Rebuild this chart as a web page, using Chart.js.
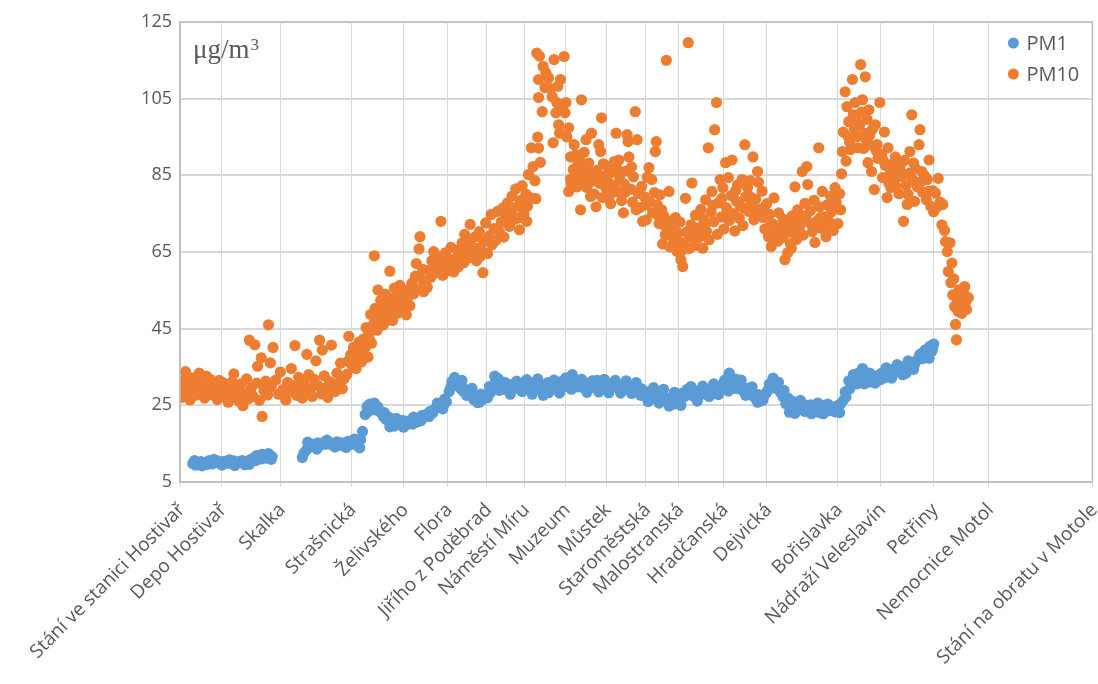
<!DOCTYPE html>
<html><head><meta charset="utf-8">
<script src="https://cdn.jsdelivr.net/npm/chart.js@4"></script>
<style>html,body{margin:0;padding:0;background:#fff}</style>
</head><body>
<canvas id="c" width="1098" height="684"></canvas>
<script>
const stationNames = ["Stání ve stanici Hostivař","Depo Hostivař","Skalka","Strašnická","Želivského","Flora","Jiřího z Poděbrad","Náměstí Míru","Muzeum","Můstek","Staroměstská","Malostranská","Hradčanská","Dejvická","Bořislavka","Nádraží Veleslavín","Petřiny","Nemocnice Motol","Stání na obratu v Motole"];
const stationPos = [0,4.56,11.01,18.77,24.51,29.32,33.63,37.78,42.25,46.70,51.06,54.69,59.55,64.32,72.07,76.80,82.55,88.62,100];
const yTicks = [5,25,45,65,85,105,125];
const seriesNames = ["PM1","PM10"];
const unitLabel = "μg/m";

const pm1 = [
[1.4,9.8],[1.7,9.4],[2.0,9.9],[2.3,10.3],[2.6,9.5],[2.9,10.1],[3.2,10.6],[3.5,9.7],[3.8,10.2],[4.1,10.5],[4.4,9.8],[4.7,10.3],[5.0,10.4],[5.3,9.9],[5.6,10.2],[5.9,10.5],[6.2,10.0],[6.5,10.3],[6.8,10.6],[7.1,9.5],[7.4,10.4],[7.7,10.8],[8.0,11.2],[8.3,10.6],[8.6,11.5],[8.9,11.0],[9.2,11.8],[9.5,11.2],[9.8,11.9],[10.1,11.6],
[1.6,10.6],[2.4,9.2],[3.0,9.6],[3.7,10.9],[4.6,9.4],[5.4,10.8],[6.0,9.3],[6.9,10.1],[7.6,9.6],[8.4,11.9],[9.0,12.2],[9.7,12.4],[10.0,10.9],
[13.4,11.4],[13.6,12.6],[13.9,13.5],[14.2,14.2],[14.5,14.8],[14.8,14.3],[15.1,15.2],[15.4,14.6],[15.7,15.3],[16.0,14.9],[16.3,15.4],[16.6,14.7],[16.9,15.1],[17.2,15.5],[17.5,14.6],[17.8,15.2],[18.1,15.0],[18.4,15.6],[18.7,14.8],[19.0,15.3],[19.3,15.9],[19.5,14.4],[19.8,16.1],[20.0,18.2],[20.3,22.6],[20.5,24.7],[20.8,25.3],[21.1,24.4],[21.4,23.8],[21.7,24.6],[22.0,23.2],[22.3,22.0],[22.6,21.3],[22.9,21.9],[23.2,20.2],[23.5,19.6],[23.8,20.8],[24.1,20.3],[24.4,21.1],[24.7,19.7],[25.0,20.6],[25.3,21.2],[25.6,21.9],[25.9,20.6],[26.2,21.4],[26.5,22.3],[26.8,22.0],[27.1,22.8],[27.4,23.4],[27.7,23.0],[28.0,24.2],[28.3,24.8],[28.6,25.3],[28.9,25.0],[29.2,25.9],
[14.0,15.4],[15.0,13.6],[16.1,15.9],[17.0,14.1],[18.2,14.0],[19.1,16.2],[19.7,13.9],[20.6,23.3],[21.3,25.6],[22.4,23.1],[23.0,19.4],[23.7,21.6],[24.5,19.3],[25.5,20.1],[26.4,21.0],[27.3,22.1],[28.2,25.6],[28.8,24.1],[29.0,26.6],
[29.5,28.6],[29.8,31.2],[30.1,32.3],[30.4,30.8],[30.7,29.5],[31.0,28.7],[31.3,29.1],[31.6,28.4],[31.9,27.9],[32.2,26.5],[32.5,27.3],[32.8,25.8],[33.1,26.4],[33.4,27.6],[33.7,27.0],[34.0,28.2],[34.3,29.6],[34.6,31.3],[34.9,31.9],[35.2,30.6],[35.5,29.2],[35.8,30.1],[36.1,29.3],[36.4,30.5],[36.7,29.6],[37.0,30.3],[37.3,29.1],[37.6,30.4],[37.9,29.8],[38.2,30.6],
[38.5,29.2],[38.8,30.8],[39.1,29.5],[39.4,30.2],[39.7,28.8],[40.0,29.6],[40.3,30.9],[40.6,29.1],[40.9,30.3],[41.2,29.4],[41.5,30.6],[41.8,31.2],[42.1,29.9],[42.4,30.5],[42.7,31.6],[43.0,33.0],[43.3,31.4],[43.6,29.8],[43.9,30.4],[44.2,29.6],[44.5,30.8],[44.8,29.3],[45.1,30.1],[45.4,29.7],[45.7,31.5],[46.0,30.2],[46.3,29.5],[46.6,30.6],[46.9,29.1],[47.2,30.4],[47.5,29.8],[47.8,30.7],[48.1,29.4],[48.4,30.1],[48.7,29.6],[49.0,30.3],[49.3,29.0],[49.6,30.2],[49.9,29.5],
[50.2,28.4],[50.5,27.6],[50.8,28.9],[51.1,27.2],[51.4,28.1],[51.7,26.8],[52.0,28.4],[52.3,27.5],[52.6,26.6],[52.9,28.0],[53.2,27.1],[53.5,25.8],[53.8,26.9],[54.1,25.3],[54.4,27.4],[54.7,26.2],[55.0,28.1],[55.3,27.3],[55.6,29.2],[55.9,28.0],[56.2,27.5],[56.5,28.8],[56.8,27.1],[57.1,28.5],[57.4,29.0],[57.7,27.9],[58.0,28.6],[58.3,29.4],[58.6,28.2],[58.9,29.7],[59.2,28.9],[59.5,30.6],[59.8,29.3],[60.1,28.7],
[60.4,32.4],[60.7,30.9],[61.0,31.8],[61.3,30.2],[61.6,29.0],[61.9,29.6],[62.2,28.3],[62.5,28.9],[62.8,27.4],[63.1,26.7],[63.4,27.8],[63.7,26.2],[64.0,27.5],[64.3,28.4],[64.6,30.6],[64.9,31.2],[65.2,29.5],[65.5,30.1],[65.8,28.4],[66.1,27.2],[66.4,25.4],[66.7,26.8],[67.0,24.1],[67.3,25.9],[67.6,23.6],[67.9,24.8],[68.2,25.5],[68.5,23.4],[68.8,24.6],[69.1,25.1],[69.4,23.9],[69.7,24.4],[70.0,23.2],[70.3,24.7],[70.6,25.0],[70.9,24.1],[71.2,23.6],[71.5,24.3],[71.8,23.3],[72.1,24.9],[72.4,25.4],[72.7,26.3],[73.0,27.2],
[73.3,31.4],[73.6,30.2],[73.9,31.9],[74.2,30.6],[74.5,32.0],[74.8,34.6],[75.1,31.8],[75.4,32.4],[75.7,31.1],[76.0,32.2],[76.3,31.5],[76.6,32.9],[76.9,33.4],[77.2,32.2],[77.5,33.6],[77.8,34.3],[78.1,33.2],[78.4,34.5],[78.7,33.9],[79.0,35.1],[79.3,34.6],[79.6,33.4],[79.9,35.4],[80.2,36.2],[80.5,35.6],[80.8,36.8],[81.1,38.3],[81.4,37.2],[81.7,39.5],[82.0,38.6],[82.2,40.4],[82.4,39.1],[82.6,41.0],
[29.7,29.9],[30.2,30.2],[30.9,31.5],[31.4,27.6],[32.0,29.4],[32.6,25.7],[33.0,27.9],[33.9,29.9],[34.5,32.6],[35.0,28.9],[35.6,31.0],[36.2,27.9],[36.9,31.3],[37.5,28.6],[38.0,31.7],[38.6,27.9],[39.2,31.9],[39.8,27.6],[40.4,28.3],[41.0,31.6],[41.6,28.2],[42.3,32.2],[42.9,29.2],[43.4,30.0],[44.0,31.8],[44.6,28.4],[45.2,31.4],[45.9,28.5],[46.5,31.8],[47.0,28.3],[47.7,31.5],[48.3,28.2],[48.9,31.4],[49.5,28.1],[50.0,30.9],[50.6,29.3],[51.3,26.0],[51.9,29.6],[52.5,25.6],[53.0,29.2],[53.6,24.8],[54.2,28.4],[54.9,25.0],[55.5,28.0],[56.0,29.9],[56.7,26.1],[57.3,30.0],[58.0,27.3],[58.5,30.6],[59.0,27.8],[59.7,31.6],[60.2,33.4],[60.9,29.4],[61.5,31.6],[62.0,27.6],[62.7,29.8],[63.3,25.8],[63.9,26.4],[64.5,29.2],[65.0,32.1],[65.6,31.0],[66.2,28.9],[66.8,23.2],[67.4,22.9],[68.0,26.3],[68.6,24.9],[69.2,22.8],[69.9,25.6],[70.5,22.8],[71.0,25.3],[71.7,24.6],[72.3,23.1],[72.9,28.5],[73.4,29.3],[73.8,33.0],[74.4,33.5],[75.0,30.6],[75.6,33.4],[76.2,30.8],[76.8,31.7],[77.4,34.8],[78.0,32.1],[78.6,35.6],[79.2,33.0],[79.8,36.6],[80.4,34.4],[81.0,37.6],[81.5,38.9],[82.1,37.3],[82.5,39.9]
];

const pm10 = [
[0.0,29.3],[0.2,27.1],[0.4,31.4],[0.6,33.8],[0.8,28.2],[1.0,30.5],[1.1,26.4],[1.3,32.2],[1.5,29.0],[1.7,27.6],[1.9,31.0],[2.1,33.4],[2.3,28.8],[2.5,30.2],[2.7,26.9],[2.9,32.6],[3.1,29.6],[3.3,31.8],[3.5,27.8],[3.7,30.4],[3.9,29.1],[4.1,26.5],[4.3,31.5],[4.5,28.6],[4.7,30.9],[4.9,27.3],[5.1,29.9],[5.3,25.8],[5.5,28.4],[5.7,31.1],[5.9,33.2],[6.1,27.0],[6.3,29.3],[6.5,26.0],[6.7,30.7],[6.9,24.9],[7.1,28.1],[7.3,31.9],[7.5,26.7],[7.6,42.0],[7.8,29.5],[8.0,27.4],[8.2,40.8],[8.4,30.8],[8.5,35.2],[8.7,26.3],[8.9,37.4],[9.0,22.1],[9.2,28.9],[9.4,31.3],[9.6,27.7],[9.7,46.0],[9.9,36.1],[10.0,29.8],[10.2,40.1],
[10.5,31.6],[10.8,27.9],[11.0,33.7],[11.3,29.2],[11.6,26.4],[11.8,31.0],[12.0,28.5],[12.2,34.6],[12.4,30.1],[12.6,40.6],[12.8,27.6],[13.0,32.3],[13.2,29.8],[13.4,26.9],[13.6,31.5],[13.8,28.3],[13.9,38.3],[14.1,33.0],[14.3,29.4],[14.5,27.3],[14.7,31.8],[14.9,36.6],[15.1,30.2],[15.3,42.0],[15.5,28.0],[15.6,39.4],[15.8,32.7],[16.0,29.6],[16.2,27.1],[16.4,31.2],[16.6,40.7],[16.8,30.5],[17.0,28.6],[17.2,33.4],[17.4,30.9],[17.6,36.0],[17.8,29.3],[18.0,32.0],
[18.3,33.1],[18.4,36.5],[18.5,43.0],[18.7,38.2],[18.9,35.4],[19.0,40.1],[19.2,37.3],[19.3,34.6],[19.5,39.2],[19.6,41.5],[19.8,36.8],[20.0,38.9],[20.1,42.3],[20.3,40.0],[20.4,45.3],[20.6,37.6],[20.7,43.8],[20.9,48.7],[21.0,41.2],[21.2,46.1],[21.3,64.0],[21.4,50.3],[21.6,44.6],[21.7,55.1],[21.9,47.9],[22.0,52.4],[22.2,49.5],[22.3,46.0],[22.5,54.0],[22.6,50.8],[22.8,48.2],[23.0,60.0],[23.1,52.9],[23.3,47.1],[23.5,55.6],[23.6,51.4],[23.8,49.0],[24.0,53.8],[24.1,56.3],[24.3,50.2],[24.5,52.6],[24.7,55.0],[24.8,48.6],[25.0,53.3],[25.2,51.0],[25.4,56.8],[25.6,54.1],[25.8,58.7],[25.9,62.0],[26.1,55.2],[26.2,65.8],[26.3,69.0],[26.5,57.9],[26.7,54.6],[26.9,56.2],[27.1,55.8],
[27.3,60.2],[27.5,58.4],[27.6,62.7],[27.8,65.1],[28.0,59.6],[28.1,61.8],[28.3,63.9],[28.5,60.7],[28.6,73.0],[28.8,58.9],[29.0,62.4],[29.1,64.8],[29.3,60.1],[29.5,61.5],[29.7,66.2],[29.8,63.0],[30.0,59.8],[30.2,62.9],[30.4,65.4],[30.5,61.1],[30.7,64.0],[30.9,67.3],[31.1,62.2],[31.2,69.6],[31.4,65.0],[31.6,63.4],[31.8,72.2],[31.9,66.6],[32.1,64.2],[32.3,68.9],[32.5,62.7],[32.7,66.0],[32.8,70.3],[33.0,65.5],[33.2,59.6],[33.3,67.8],[33.5,72.6],[33.7,64.6],[33.9,69.2],[34.1,74.8],[34.2,66.9],[34.4,71.1],[34.6,68.0],[34.8,75.6],[35.0,70.4],
[35.2,72.8],[35.4,76.5],[35.5,68.9],[35.7,74.1],[35.9,77.8],[36.1,71.7],[36.3,75.3],[36.4,79.6],[36.6,73.5],[36.8,81.5],[37.0,76.9],[37.2,70.8],[37.3,78.4],[37.5,82.3],[37.7,75.0],[37.9,80.1],[38.0,73.0],[38.2,85.2],[38.4,79.2],[38.5,92.2],[38.7,87.3],[38.9,83.6],[39.0,78.9],[39.2,95.0],[39.3,92.1],[39.5,88.4],
[39.1,116.9],[39.4,116.1],[39.3,110.0],[39.3,105.3],[39.7,101.6],[39.8,113.4],[40.0,107.9],[40.1,111.8],[40.4,110.4],[40.6,107.6],[40.8,105.5],[40.9,93.5],[41.0,115.2],[41.2,101.3],[41.3,104.0],[41.4,108.2],[41.5,98.2],[41.6,96.0],[41.7,110.0],[41.9,102.5],[42.1,116.0],[42.2,101.3],[42.3,104.0],[42.4,95.0],[42.6,97.4],
[42.6,80.8],[42.8,89.8],[42.9,82.6],[43.1,86.5],[43.2,93.0],[43.3,84.1],[43.4,90.4],[43.6,87.8],[43.7,85.2],[43.8,88.9],[43.9,76.0],[44.0,104.7],[44.1,83.2],[44.2,86.9],[44.4,84.4],[44.5,94.3],[44.6,81.8],[44.8,88.2],[44.9,85.6],[45.1,96.0],[45.2,83.5],[45.4,80.1],[45.6,76.8],[45.7,86.3],[45.9,93.0],[46.0,82.9],[46.1,91.2],[46.2,100.0],[46.3,79.2],[46.5,84.8],[46.7,81.6],[46.8,87.4],[47.0,83.0],[47.1,79.8],[47.3,85.7],[47.5,82.2],[47.6,88.6],[47.8,96.0],[47.9,80.7],[48.1,89.0],[48.2,84.0],[48.4,78.4],[48.6,75.2],[48.7,82.7],[48.9,86.1],[49.0,95.6],[49.1,93.8],[49.2,89.8],[49.4,81.4],[49.6,78.0],[49.7,84.6],[49.9,101.6],[50.1,94.3],[50.2,80.3],
[50.4,76.6],[50.6,82.1],[50.7,73.0],[50.9,79.4],[51.1,73.4],[51.2,84.5],[51.4,87.0],[51.5,78.0],[51.7,83.9],[51.8,75.2],[52.0,80.5],[52.1,91.2],[52.2,93.8],[52.3,77.3],[52.5,72.4],[52.6,79.9],[52.8,76.0],[52.9,67.1],[53.0,74.5],[53.2,69.5],[53.3,115.0],[53.4,71.8],[53.6,80.8],[53.7,66.3],[53.9,73.2],[54.0,68.7],[54.2,70.6],[54.3,74.0],[54.5,65.1],[54.6,69.9],[54.8,72.8],[54.9,63.0],[55.1,61.2],[55.2,67.4],[55.4,79.0],[55.5,70.2],[55.7,119.6],[55.8,65.9],[56.0,72.1],[56.1,83.0],[56.3,68.4],[56.5,74.6],[56.6,66.7],[56.8,71.3],[57.0,69.0],
[57.1,76.1],[57.3,66.0],[57.4,73.5],[57.6,78.6],[57.7,70.4],[57.9,92.2],[58.0,68.2],[58.2,75.4],[58.3,80.8],[58.5,72.9],[58.6,96.9],[58.8,104.0],[58.9,69.6],[59.0,77.8],[59.2,83.9],[59.3,74.1],[59.5,81.8],[59.6,71.0],[59.8,88.3],[59.9,76.5],[60.1,84.4],[60.2,73.2],[60.4,79.7],[60.5,89.0],[60.7,75.0],[60.8,70.5],[61.0,78.2],[61.1,82.5],[61.3,73.8],[61.4,77.0],[61.6,83.9],[61.7,71.9],[61.9,93.0],[62.0,79.4],[62.2,81.8],[62.3,75.6],[62.5,83.6],[62.6,77.3],[62.8,89.8],[62.9,73.4],[63.1,78.8],[63.3,86.0],[63.4,83.2],[63.6,76.2],[63.8,80.9],[63.9,74.0],[64.1,71.0],
[64.3,77.6],[64.5,69.0],[64.6,74.8],[64.8,66.4],[65.0,72.3],[65.1,79.1],[65.3,70.7],[65.5,67.8],[65.6,75.2],[65.8,71.4],[66.0,68.7],[66.1,73.6],[66.3,63.0],[66.4,69.9],[66.6,64.8],[66.8,72.0],[66.9,67.2],[67.1,74.4],[67.2,70.1],[67.4,82.0],[67.6,68.3],[67.7,76.0],[67.9,71.5],[68.0,73.9],[68.2,86.0],[68.3,69.4],[68.5,77.7],[68.7,87.3],[68.8,82.6],[69.0,72.6],[69.1,75.8],[69.3,70.3],[69.5,78.5],[69.6,67.5],[69.8,73.1],[70.0,92.2],[70.1,76.8],[70.3,71.2],[70.4,80.8],[70.6,74.2],[70.8,69.0],[70.9,77.3],[71.1,73.0],[71.3,79.6],[71.4,75.5],[71.6,70.6],[71.8,81.8],[71.9,78.0],[72.1,72.4],
[72.3,80.2],[72.5,85.4],[72.6,91.2],[72.7,96.3],[72.9,106.8],[73.0,88.7],[73.1,102.9],[73.3,99.0],[73.4,93.6],[73.5,91.7],[73.7,110.0],[73.8,100.8],[73.9,97.4],[74.0,104.0],[74.2,95.1],[74.3,92.2],[74.5,98.2],[74.6,113.9],[74.7,101.5],[74.8,104.7],[75.0,96.0],[75.1,110.7],[75.2,94.3],[75.3,99.6],[75.4,88.3],[75.5,102.1],[75.7,92.9],[75.8,86.0],[75.9,97.0],[76.1,81.3],[76.2,98.2],[76.4,93.0],[76.5,89.4],
[76.7,104.0],[76.9,90.5],[77.0,84.4],[77.2,96.3],[77.3,87.6],[77.5,79.2],[77.6,92.2],[77.8,85.3],[77.9,81.8],[78.1,88.0],[78.3,83.6],[78.4,89.8],[78.6,86.1],[78.8,80.2],[78.9,87.3],[79.1,84.7],[79.3,73.0],[79.4,88.9],[79.6,82.4],[79.7,77.4],[79.9,85.5],[80.0,91.2],[80.2,100.8],[80.3,84.0],[80.5,78.2],[80.6,86.8],[80.8,82.0],[81.0,93.0],[81.1,96.9],[81.3,86.0],[81.4,80.6],[81.6,84.9],[81.8,78.6],[81.9,83.9],[82.1,89.0],[82.3,76.9],[82.5,81.0],[82.6,75.5],
[82.8,80.4],[83.0,76.8],[83.1,84.2],[83.3,78.0],[83.5,72.1],[83.6,77.4],[83.8,70.6],[83.9,67.7],[84.1,65.1],[84.2,59.9],[84.4,67.4],[84.5,57.0],[84.6,62.1],[84.7,53.8],[84.8,58.0],[84.9,50.8],[85.0,46.1],[85.1,42.1],[85.2,52.3],[85.3,49.5],[85.4,55.1],[85.5,51.2],[85.6,53.6],[85.7,49.0],[85.9,54.4],[86.0,56.0],[86.1,51.9],[86.2,50.0],[86.4,53.1],
[42.8,84.0],[43.5,82.0],[44.3,91.0],[45.0,79.5],[45.8,84.2],[46.4,88.0],[47.2,77.6],[48.0,86.4],[48.8,80.6],[49.5,87.2],[50.0,76.0],[51.0,77.2],[52.4,74.6],[53.1,72.0],[53.8,70.0],[54.4,67.6],[55.0,65.4],[55.9,69.3],[56.4,71.0],[57.5,72.0],[58.4,77.2],[59.4,79.0],[60.0,75.6],[60.9,81.0],[61.8,76.4],[62.4,79.6],[63.2,75.0],[64.0,76.5],[64.7,72.0],[65.4,69.0],[66.2,70.8],[67.0,66.0],[67.8,72.8],[68.6,74.5],[69.4,71.0],[70.2,74.0],[71.0,71.8],[71.7,76.4],[72.4,76.0],[73.2,95.2],[74.1,100.0],[74.9,92.0],[75.6,95.5],[76.3,91.4],[77.1,88.8],[77.7,83.0],[78.5,82.0],[79.0,85.9],[79.8,80.0],[80.4,88.2],[81.2,83.3],[82.0,80.8],[36.0,74.6],[37.1,73.9],[38.1,77.0],[31.5,67.5],[32.9,63.8],[30.1,61.0],[28.4,62.1],[26.6,60.5],[24.9,51.5],[23.9,52.4],[22.9,50.5],[21.8,45.6],[20.8,42.0],[19.9,36.3],[19.1,38.4]
];

const colors = ["#5B9BD5","#ED7D31"];
const textColor = "#595959";
const gridColor = "#d9d9d9";

const toPts = arr => arr.map(p => ({x: p[0], y: p[1]}));

const overlay = {
  id: 'overlay',
  afterDatasetsDraw(chart) {
    const ctx = chart.ctx, a = chart.chartArea;
    ctx.save();
    ctx.strokeStyle = '#bfbfbf';
    ctx.lineWidth = 1.5;
    ctx.strokeRect(a.left, a.top, a.right - a.left, a.bottom - a.top);
    ctx.fillStyle = textColor;
    ctx.textBaseline = 'alphabetic';
    ctx.textAlign = 'left';
    ctx.font = '27px "Liberation Serif", "Times New Roman", serif';
    ctx.fillText(unitLabel, a.left + 13, a.top + 36);
    const w = ctx.measureText(unitLabel).width;
    ctx.font = '17px "Liberation Serif", "Times New Roman", serif';
    ctx.fillText('3', a.left + 13 + w + 1, a.top + 28);
    ctx.font = '20px "Open Sans", sans-serif';
    ctx.textBaseline = 'middle';
    chart.data.datasets.forEach((ds, i) => {
      const y = a.top + 21 + i * 31;
      ctx.beginPath();
      ctx.arc(a.right - 79, y, 5.5, 0, Math.PI * 2);
      ctx.fillStyle = ds.backgroundColor;
      ctx.fill();
      ctx.fillStyle = textColor;
      ctx.fillText(ds.label, a.right - 66, y + 1);
    });
    ctx.restore();
  }
};

new Chart(document.getElementById('c'), {
  type: 'scatter',
  data: {
    datasets: [
      { label: seriesNames[0], data: toPts(pm1), backgroundColor: colors[0], borderWidth: 0, pointRadius: 5.6, order: 1 },
      { label: seriesNames[1], data: toPts(pm10), backgroundColor: colors[1], borderWidth: 0, pointRadius: 5.6, order: 0 }
    ]
  },
  options: {
    responsive: false,
    animation: false,
    layout: { padding: { top: 22, right: 3, left: 0, bottom: 0 } },
    plugins: { legend: { display: false }, tooltip: { enabled: false } },
    scales: {
      x: {
        type: 'linear', min: 0, max: 100,
        afterBuildTicks: s => { s.ticks = stationPos.map(v => ({ value: v })); },
        afterFit: s => { s.height = 202; s.paddingLeft = 0; s.paddingRight = 0; },
        ticks: {
          autoSkip: false, minRotation: 45, maxRotation: 45, padding: 12, labelOffset: 2,
          color: textColor, font: { family: '"Open Sans"', size: 19 },
          callback: (v) => { const i = stationPos.indexOf(v); return i >= 0 ? stationNames[i] : ''; }
        },
        grid: { color: gridColor, lineWidth: 1, tickLength: 5, tickColor: gridColor },
        border: { color: '#bfbfbf', width: 1.5 }
      },
      y: {
        min: 5, max: 125,
        afterBuildTicks: s => { s.ticks = yTicks.map(v => ({ value: v })); },
        afterFit: s => { s.width = 180; s.paddingTop = 0; s.paddingBottom = 0; },
        ticks: { color: textColor, font: { family: '"Open Sans"', size: 18 }, padding: 8 },
        grid: { color: gridColor, lineWidth: 2, drawTicks: false },
        border: { color: '#bfbfbf', width: 1.5 }
      }
    }
  },
  plugins: [overlay]
});
</script>
</body></html>
